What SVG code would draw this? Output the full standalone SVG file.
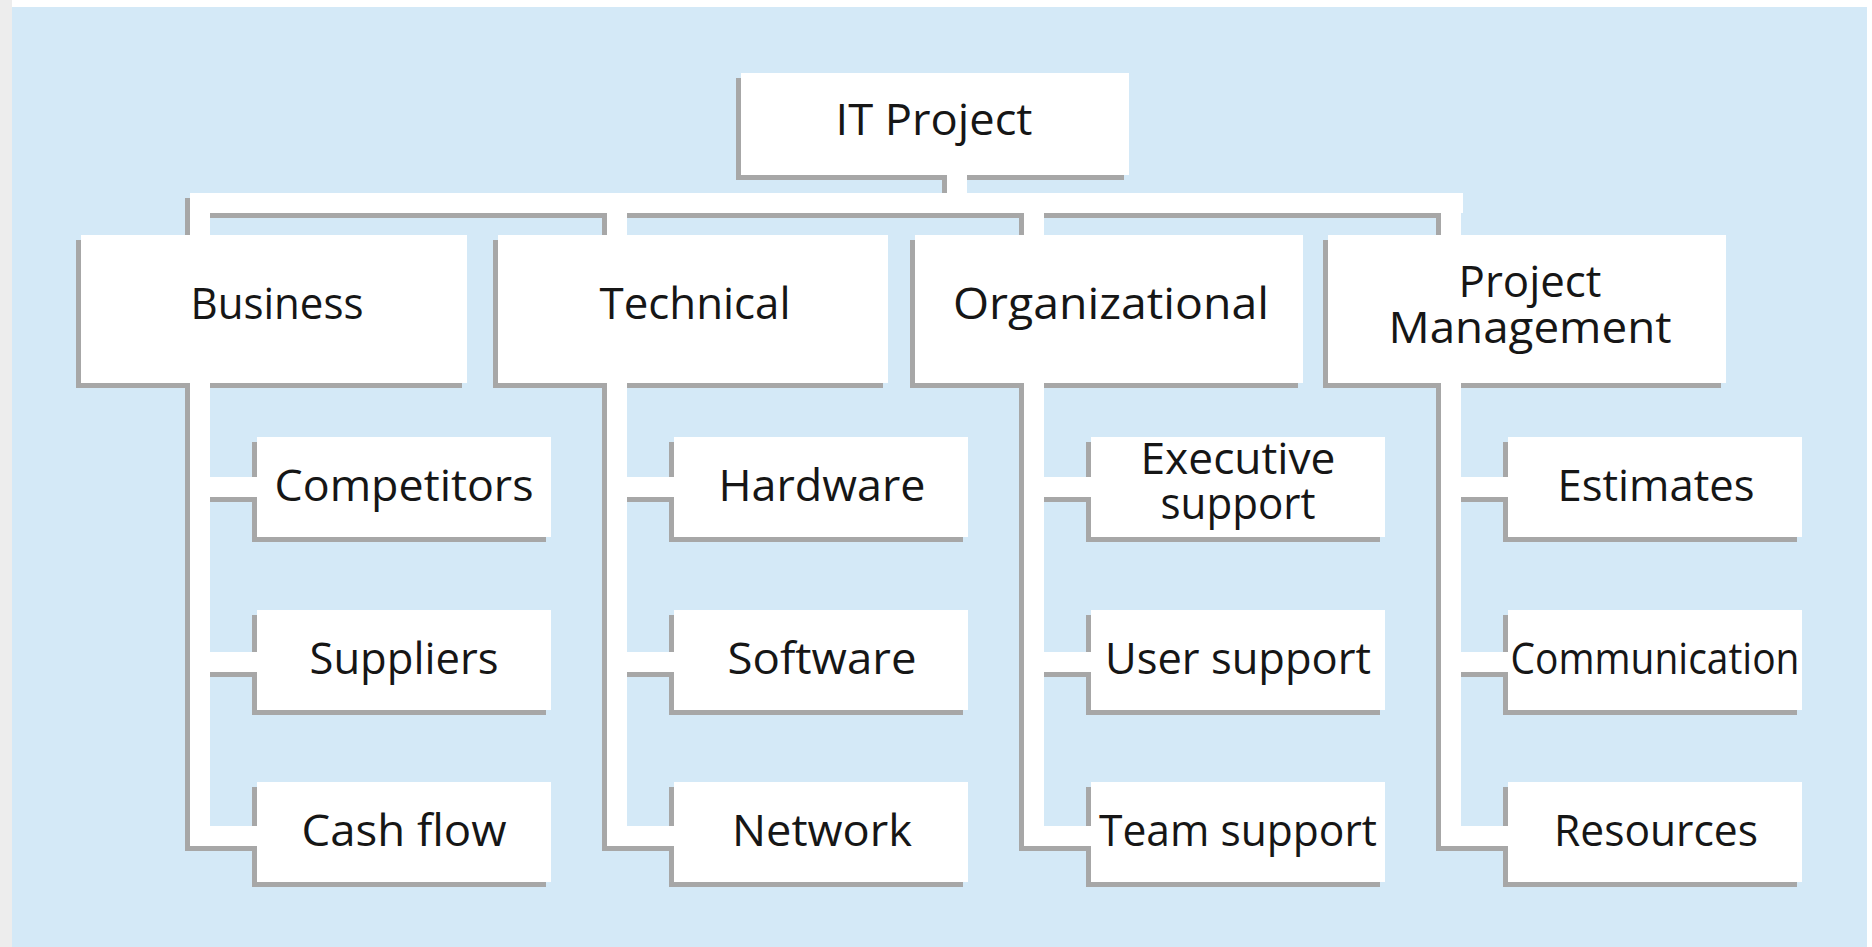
<svg xmlns="http://www.w3.org/2000/svg" width="1872" height="947" viewBox="0 0 1872 947">
<style>
.sh{fill:#a7a7a7}
.bx{fill:#ffffff}
.t{font-family:"Open Sans","Noto Sans","Liberation Sans",sans-serif;font-size:44px;fill:#161616;text-anchor:middle}
</style>
<rect x="0" y="0" width="1872" height="947" fill="#ffffff"/>
<rect x="0" y="0" width="12" height="947" fill="#ededed"/>
<rect x="12" y="7" width="1855" height="940" fill="#d4e9f7"/>

<g id="it-project"><rect class="sh" x="736" y="78" width="388" height="102"/><rect class="bx" x="741" y="73" width="388" height="102"/><text class="t" x="934" y="135" textLength="197" lengthAdjust="spacingAndGlyphs">IT Project</text></g>

<g id="business"><rect class="sh" x="76" y="240" width="386" height="148"/><rect class="bx" x="81" y="235" width="386" height="148"/><text class="t" x="277" y="319" textLength="173" lengthAdjust="spacingAndGlyphs">Business</text></g>
<g id="technical"><rect class="sh" x="493" y="240" width="390" height="148"/><rect class="bx" x="498" y="235" width="390" height="148"/><text class="t" x="695" y="319" textLength="191" lengthAdjust="spacingAndGlyphs">Technical</text></g>
<g id="organizational"><rect class="sh" x="910" y="240" width="388" height="148"/><rect class="bx" x="915" y="235" width="388" height="148"/><text class="t" x="1111" y="319" textLength="316" lengthAdjust="spacingAndGlyphs">Organizational</text></g>
<g id="project-management"><rect class="sh" x="1323" y="240" width="398" height="148"/><rect class="bx" x="1328" y="235" width="398" height="148"/><text class="t"><tspan x="1530" y="297" textLength="143" lengthAdjust="spacingAndGlyphs">Project</tspan><tspan x="1530" y="343" textLength="283" lengthAdjust="spacingAndGlyphs">Management</tspan></text></g>

<g id="competitors"><rect class="sh" x="252" y="442" width="294" height="100"/><rect class="bx" x="257" y="437" width="294" height="100"/><text class="t" x="404" y="501" textLength="259" lengthAdjust="spacingAndGlyphs">Competitors</text></g>
<g id="suppliers"><rect class="sh" x="252" y="615" width="294" height="100"/><rect class="bx" x="257" y="610" width="294" height="100"/><text class="t" x="404" y="674" textLength="189" lengthAdjust="spacingAndGlyphs">Suppliers</text></g>
<g id="cash-flow"><rect class="sh" x="252" y="787" width="294" height="100"/><rect class="bx" x="257" y="782" width="294" height="100"/><text class="t" x="404" y="846" textLength="205" lengthAdjust="spacingAndGlyphs">Cash flow</text></g>

<g id="hardware"><rect class="sh" x="669" y="442" width="294" height="100"/><rect class="bx" x="674" y="437" width="294" height="100"/><text class="t" x="822" y="501" textLength="207" lengthAdjust="spacingAndGlyphs">Hardware</text></g>
<g id="software"><rect class="sh" x="669" y="615" width="294" height="100"/><rect class="bx" x="674" y="610" width="294" height="100"/><text class="t" x="822" y="674" textLength="189" lengthAdjust="spacingAndGlyphs">Software</text></g>
<g id="network"><rect class="sh" x="669" y="787" width="294" height="100"/><rect class="bx" x="674" y="782" width="294" height="100"/><text class="t" x="822" y="846" textLength="180" lengthAdjust="spacingAndGlyphs">Network</text></g>

<g id="executive-support"><rect class="sh" x="1086" y="442" width="294" height="100"/><rect class="bx" x="1091" y="437" width="294" height="100"/><text class="t"><tspan x="1238" y="474" textLength="195" lengthAdjust="spacingAndGlyphs">Executive</tspan><tspan x="1238" y="519" textLength="155" lengthAdjust="spacingAndGlyphs">support</tspan></text></g>
<g id="user-support"><rect class="sh" x="1086" y="615" width="294" height="100"/><rect class="bx" x="1091" y="610" width="294" height="100"/><text class="t" x="1238" y="674" textLength="266" lengthAdjust="spacingAndGlyphs">User support</text></g>
<g id="team-support"><rect class="sh" x="1086" y="787" width="294" height="100"/><rect class="bx" x="1091" y="782" width="294" height="100"/><text class="t" x="1238" y="846" textLength="278" lengthAdjust="spacingAndGlyphs">Team support</text></g>

<g id="estimates"><rect class="sh" x="1503" y="442" width="294" height="100"/><rect class="bx" x="1508" y="437" width="294" height="100"/><text class="t" x="1656" y="501" textLength="197" lengthAdjust="spacingAndGlyphs">Estimates</text></g>
<g id="communication"><rect class="sh" x="1503" y="615" width="294" height="100"/><rect class="bx" x="1508" y="610" width="294" height="100"/><text class="t" x="1655" y="674" textLength="289" lengthAdjust="spacingAndGlyphs">Communication</text></g>
<g id="resources"><rect class="sh" x="1503" y="787" width="294" height="100"/><rect class="bx" x="1508" y="782" width="294" height="100"/><text class="t" x="1656" y="846" textLength="204" lengthAdjust="spacingAndGlyphs">Resources</text></g>

<g id="connectors">
<g id="connector-shadows" class="sh">
<rect x="942" y="175" width="20" height="25"/>
<rect x="185" y="198" width="1273" height="20"/>
<rect x="185" y="208" width="20" height="27"/>
<rect x="602" y="208" width="20" height="27"/>
<rect x="1019" y="208" width="20" height="27"/>
<rect x="1436" y="208" width="20" height="27"/>
<rect x="185" y="383" width="20" height="468"/>
<rect x="602" y="383" width="20" height="468"/>
<rect x="1019" y="383" width="20" height="468"/>
<rect x="1436" y="383" width="20" height="468"/>
<rect x="205" y="482" width="52" height="20"/><rect x="205" y="657" width="52" height="20"/><rect x="205" y="831" width="52" height="20"/>
<rect x="622" y="482" width="52" height="20"/><rect x="622" y="657" width="52" height="20"/><rect x="622" y="831" width="52" height="20"/>
<rect x="1039" y="482" width="52" height="20"/><rect x="1039" y="657" width="52" height="20"/><rect x="1039" y="831" width="52" height="20"/>
<rect x="1456" y="482" width="52" height="20"/><rect x="1456" y="657" width="52" height="20"/><rect x="1456" y="831" width="52" height="20"/>
</g>
<g id="connector-lines" class="bx">
<rect x="947" y="170" width="20" height="25"/>
<rect x="190" y="193" width="1273" height="20"/>
<rect x="190" y="203" width="20" height="36"/>
<rect x="607" y="203" width="20" height="36"/>
<rect x="1024" y="203" width="20" height="36"/>
<rect x="1441" y="203" width="20" height="36"/>
<rect x="190" y="378" width="20" height="468"/>
<rect x="607" y="378" width="20" height="468"/>
<rect x="1024" y="378" width="20" height="468"/>
<rect x="1441" y="378" width="20" height="468"/>
<rect x="210" y="477" width="50" height="20"/><rect x="210" y="652" width="50" height="20"/><rect x="210" y="826" width="50" height="20"/>
<rect x="627" y="477" width="50" height="20"/><rect x="627" y="652" width="50" height="20"/><rect x="627" y="826" width="50" height="20"/>
<rect x="1044" y="477" width="50" height="20"/><rect x="1044" y="652" width="50" height="20"/><rect x="1044" y="826" width="50" height="20"/>
<rect x="1461" y="477" width="50" height="20"/><rect x="1461" y="652" width="50" height="20"/><rect x="1461" y="826" width="50" height="20"/>
</g>
</g>
</svg>
